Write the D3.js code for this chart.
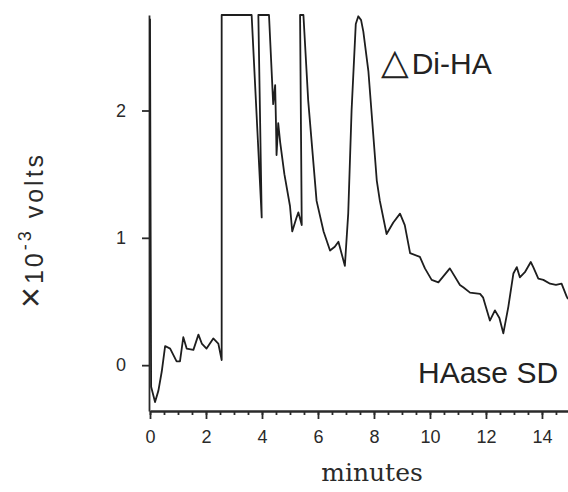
<!DOCTYPE html>
<html>
<head>
<meta charset="utf-8">
<script src="https://cdn.jsdelivr.net/npm/d3@7"></script>
<style>
  body { margin: 0; background: #fff; }
  svg { display: block; }
  .axis path, .axis line { stroke: #2a2a2a; stroke-width: 1.8; }
  .axis text { fill: #2a2a2a; font-family: "Liberation Sans", Arial, sans-serif; }
</style>
</head>
<body>
<div id="vis"></div>
<script>
const FRAME_WIDTH = 568;
const FRAME_HEIGHT = 492;

// trace (minutes, x10^-3 volts); 2.75 = pen at top of scale
const TIMES = [0, 0.04, 0.18, 0.3, 0.42, 0.54, 0.72, 0.95, 1.07, 1.19, 1.31, 1.55, 1.73, 1.85, 2.02,
  2.26, 2.44, 2.56, 2.56, 3.63, 3.99, 3.87, 4.25, 4.4, 4.47, 4.5, 4.52, 4.58, 4.65, 4.8, 5.0, 5.08,
  5.22, 5.3, 5.42, 5.36, 5.48, 5.65, 5.95, 6.2, 6.43, 6.6, 6.73, 6.96, 7.08, 7.2, 7.35, 7.44, 7.54,
  7.62, 7.8, 8.1, 8.21, 8.45, 8.69, 8.93, 9.1, 9.29, 9.64, 9.82, 10.06, 10.3, 10.71, 11.07, 11.2,
  11.43, 11.79, 11.9, 12.14, 12.32, 12.48, 12.62, 12.8, 12.98, 13.1, 13.21, 13.39, 13.6, 13.69,
  13.87, 14.05, 14.29, 14.5, 14.7, 14.88, 14.93];
const VOLTS = [2.72, -0.17, -0.29, -0.2, -0.05, 0.15, 0.13, 0.03, 0.03, 0.22, 0.13, 0.12, 0.24, 0.17,
  0.13, 0.21, 0.17, 0.04, 2.75, 2.75, 1.16, 2.75, 2.75, 2.05, 2.2, 1.9, 1.65, 1.9, 1.75, 1.5, 1.25,
  1.05, 1.15, 1.2, 1.1, 2.75, 2.75, 2.08, 1.29, 1.05, 0.9, 0.93, 0.97, 0.78, 1.19, 2.0, 2.68, 2.74,
  2.71, 2.62, 2.31, 1.45, 1.29, 1.03, 1.12, 1.19, 1.1, 0.88, 0.85, 0.76, 0.67, 0.65, 0.76, 0.63,
  0.61, 0.57, 0.56, 0.53, 0.35, 0.43, 0.37, 0.25, 0.46, 0.72, 0.77, 0.69, 0.73, 0.81, 0.77, 0.68,
  0.67, 0.64, 0.63, 0.64, 0.54, 0.52];

const Y_TICKS = [0, 1, 2];
const X_TICKS = [0, 2, 4, 6, 8, 10, 12, 14];
const X_MINOR = d3.range(0, 15, 0.5);

const data = TIMES.map((t, i) => ({ t: t, v: VOLTS[i] }));

const FRAME = d3.select("#vis")
  .append("svg")
  .attr("width", FRAME_WIDTH)
  .attr("height", FRAME_HEIGHT);

const X_SCALE = d3.scaleLinear().domain([0, 14.93]).range([150, 568]);
const Y_SCALE = d3.scaleLinear().domain([-0.36, 2.75]).range([411, 15]);

// minor ticks on the time axis
FRAME.append("g")
  .attr("class", "axis")
  .attr("transform", `translate(0, ${Y_SCALE(-0.36)})`)
  .call(d3.axisBottom(X_SCALE).tickValues(X_MINOR).tickSize(4).tickFormat("").tickSizeOuter(0));

FRAME.append("g")
  .attr("class", "axis")
  .attr("transform", `translate(0, ${Y_SCALE(-0.36)})`)
  .call(d3.axisBottom(X_SCALE).tickValues(X_TICKS).tickSize(8).tickPadding(11).tickSizeOuter(0))
  .attr("font-size", 18);

FRAME.append("g")
  .attr("class", "axis")
  .attr("transform", `translate(${X_SCALE(0) - 1}, 0)`)
  .call(d3.axisLeft(Y_SCALE).tickValues(Y_TICKS).tickFormat(d3.format("d"))
    .tickSize(7).tickPadding(16).tickSizeOuter(0))
  .attr("font-size", 18);

const line = d3.line()
  .x((d) => X_SCALE(d.t))
  .y((d) => Y_SCALE(d.v));

FRAME.append("path")
  .datum(data)
  .attr("d", line)
  .attr("fill", "none")
  .attr("stroke", "#1e1e1e")
  .attr("stroke-width", 1.8)
  .attr("stroke-linejoin", "round");

// labels
FRAME.append("text")
  .attr("x", 372)
  .attr("y", 481)
  .attr("text-anchor", "middle")
  .attr("fill", "#2a2a2a")
  .style("font-family", "'DejaVu Serif', serif")
  .style("font-size", "25px")
  .text("minutes");

const yLab = FRAME.append("text")
  .attr("transform", "translate(43, 230) rotate(-90)")
  .attr("text-anchor", "middle")
  .attr("fill", "#2a2a2a")
  .style("font-family", "'Liberation Sans', Arial, sans-serif")
  .style("font-size", "25px")
  .style("letter-spacing", "3px");
yLab.append("tspan").style("font-size", "36px").text("×");
yLab.append("tspan").text("10");
yLab.append("tspan").attr("dy", -12).style("font-size", "18px").text("-3");
yLab.append("tspan").attr("dy", 12).text(" volts");

const diha = FRAME.append("text")
  .attr("x", 381)
  .attr("y", 74)
  .attr("fill", "#222")
  .style("font-family", "'Liberation Sans', Arial, sans-serif")
  .style("font-size", "30px");
diha.append("tspan").style("font-family", "'DejaVu Sans', sans-serif").style("font-size", "36px").text("△");
diha.append("tspan").attr("dx", 3).text("Di-HA");

FRAME.append("text")
  .attr("x", 418)
  .attr("y", 383)
  .attr("fill", "#222")
  .style("font-family", "'Liberation Sans', Arial, sans-serif")
  .style("font-size", "30px")
  .text("HAase SD");
</script>
</body>
</html>
